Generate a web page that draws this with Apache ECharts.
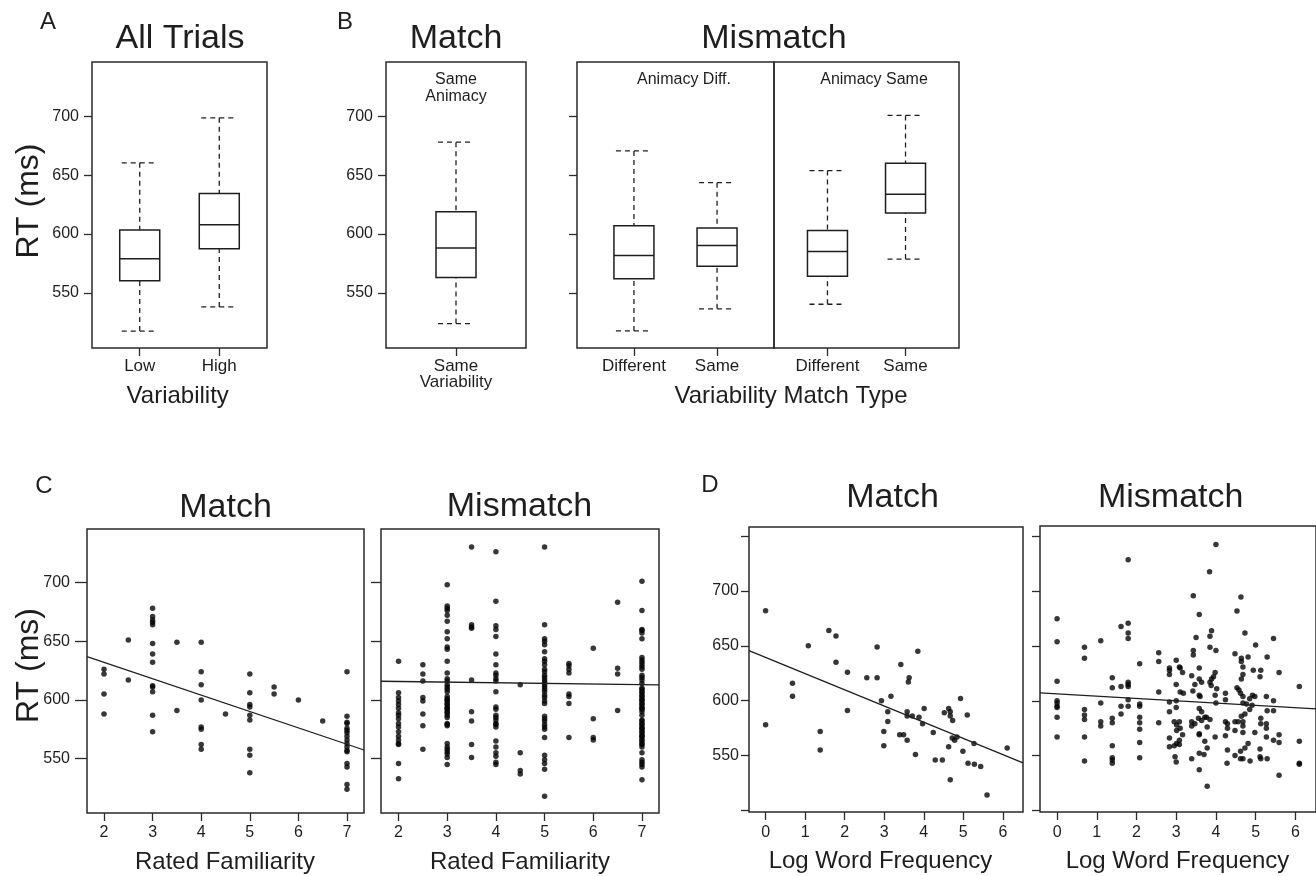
<!DOCTYPE html>
<html><head><meta charset="utf-8">
<script src="https://cdn.jsdelivr.net/npm/echarts@6/dist/echarts.min.js"></script>
<style>html,body{margin:0;padding:0;background:#fff}#c{width:1316px;height:876px}</style>
</head><body><div id="c"></div>
<script>
// ---------- data ----------
const catsA = ['Low', 'High'];
const boxA = [[517.5, 560.2, 579.0, 603.4, 660.6], [538.0, 587.5, 608.0, 634.4, 698.8]];
const catsBMatch = ['Same\nVariability'];
const boxBMatch = [[523.9, 563.1, 588.1, 619.0, 678.1]];
const catsBMis = ['Different', 'Same'];
const boxBAnimDiff = [[517.6, 561.9, 581.8, 607.1, 670.7], [536.4, 572.7, 590.3, 605.1, 643.7]];
const boxBAnimSame = [[540.3, 564.2, 585.2, 603.1, 654.0], [578.7, 617.9, 633.8, 660.2, 700.9]];

const yTicksAB = [550, 600, 650, 700];
const yTicksD = [500, 550, 600, 650, 700, 750];
const yLabelsD = [550, 600, 650, 700];
const xTicksC = [2, 3, 4, 5, 6, 7];
const xTicksD = [0, 1, 2, 3, 4, 5, 6];

// Panel C, Match: familiarity columns and RTs
const cMatchX = [2, 2.5, 3, 3.5, 4, 4.5, 5, 5.5, 6, 6.5, 7];
const cMatchY = [
  [626, 622, 605, 588],
  [651, 617],
  [678, 671, 668, 666, 664, 648, 639, 632, 612, 611, 607, 587, 573],
  [649, 591],
  [649, 624, 613, 600, 577, 575, 562, 558],
  [588],
  [622, 606, 596, 594, 587, 583, 558, 553, 538],
  [611, 605],
  [600],
  [582],
  [624, 586, 581, 580, 576, 574, 572, 569, 566, 563, 560, 557, 556, 546, 543, 528, 524]
];
// Panel C, Mismatch
const cMisX = [2, 2.5, 3, 3.5, 4, 4.5, 5, 5.5, 6, 6.5, 7];
const cMisY = [
  [633, 606, 602, 599, 596, 593, 589, 587, 584, 580, 577, 573, 569, 566, 563, 562, 546, 533],
  [630, 622, 616, 602, 599, 588, 578, 558],
  [698, 680, 678, 676, 672, 667, 658, 652, 645, 643, 633, 623, 618, 616, 613, 611, 609, 607, 603, 601, 600, 599, 597, 596, 594, 593, 592, 590, 589, 587, 585, 580, 579, 578, 563, 560, 558, 556, 554, 551, 545],
  [730, 664, 662, 661, 617, 590, 582, 562, 551],
  [726, 684, 663, 660, 654, 639, 630, 623, 621, 618, 616, 607, 594, 592, 587, 585, 583, 580, 579, 577, 565, 560, 555, 552, 547, 545],
  [613, 555, 540, 537],
  [730, 664, 652, 650, 647, 641, 635, 633, 630, 626, 624, 621, 619, 617, 615, 613, 611, 609, 607, 604, 602, 599, 597, 586, 584, 582, 579, 577, 575, 568, 553, 549, 546, 541, 518],
  [631, 629, 626, 623, 605, 603, 597, 568],
  [644, 584, 568, 566],
  [683, 627, 622, 591],
  [701, 676, 660, 659, 657, 652, 636, 634, 632, 630, 628, 626, 621, 619, 617, 614, 610, 609, 607, 606, 604, 603, 601, 600, 599, 597, 596, 594, 593, 592, 590, 587, 583, 582, 580, 579, 577, 576, 575, 573, 572, 570, 569, 568, 566, 565, 563, 562, 560, 555, 549, 547, 545, 543, 532]
];
// Panel D, Match: [log word frequency, RT]
const dMatchPts = [[0,682],[0,578],[0.68,616],[0.68,604],[1.08,650],[1.38,572],[1.38,555],[1.6,664],[1.78,659],[1.78,635],[2.07,626],[2.07,591],[2.56,621],[2.82,649],[2.82,621],[2.93,600],[2.99,572],[2.99,559],[3.09,590],[3.09,581],[3.17,604],[3.39,569],[3.49,569],[3.42,633],[3.58,564],[3.61,617],[3.63,621],[3.58,590],[3.58,586],[3.71,586],[3.79,551],[3.85,645],[3.88,585],[3.97,579],[4.01,593],[4.24,571],[4.29,546],[4.47,546],[4.52,589],[4.63,593],[4.67,590],[4.67,586],[4.73,582],[4.63,558],[4.67,528],[4.72,566],[4.78,564],[4.84,567],[4.93,602],[4.99,554],[5.1,587],[5.12,543],[5.27,561],[5.28,542],[5.44,540],[5.6,514],[6.11,557]];
// Panel D, Mismatch
const dMisPts = [[0,675],[0,654],[0,618],[0,600],[0,598],[0,595],[0,594],[0,585],[0,567],
 [0.69,649],[0.69,639],[0.69,592],[0.69,587],[0.69,583],[0.69,567],[0.69,545],
 [1.1,655],[1.1,598],[1.1,581],[1.1,577],
 [1.39,621],[1.39,612],[1.39,584],[1.39,580],[1.39,559],[1.39,548],[1.39,546],[1.39,543],
 [1.61,668],[1.61,613],[1.61,595],[1.61,588],
 [1.79,729],[1.79,671],[1.79,662],[1.79,657],[1.79,617],[1.79,615],[1.79,613],[1.79,601],[1.79,595],
 [2.08,634],[2.08,597],[2.08,595],[2.08,585],[2.08,580],[2.08,574],[2.08,562],[2.08,548],
 [2.56,644],[2.56,636],[2.56,608],[2.56,580],
 [2.83,630],[2.83,628],[2.83,624],[2.83,599],[2.83,590],[2.83,566],[2.83,558],
 [2.95,581],[2.95,559],
 [4.0,743],[3.84,718],[3.43,696],[4.63,695],[3.58,679],[4.53,682],[3.5,658],[3.89,664],[3.85,659],[4.73,662],[5.45,657],[5.0,651],[3.43,646],[3.43,642],[3.85,649],[4.0,646],[4.48,643],[4.64,639],[4.81,640],[5.29,640],[3.0,637],[3.08,631],[3.1,630],[3.16,626],[3.58,630],[3.39,623],[3.58,620],[3.64,617],[3.98,626],[3.94,622],[3.89,620],[3.85,617],[3.88,614],[4.02,611],[3.47,615],[3.58,605],[3.6,604],[3.42,609],[3.1,608],[3.18,607],[3.0,615],[3.0,600],[3.0,594],[3.98,605],[4.0,598],[4.24,607],[4.24,601],[4.64,636],[4.68,631],[4.68,624],[4.64,620],[4.53,612],[4.58,610],[4.62,607],[4.68,604],[4.68,598],[4.77,597],[4.85,602],[4.92,605],[4.98,604],[4.94,628],[5.13,628],[5.11,622],[5.27,604],[5.45,600],[5.59,626],[6.1,613],[4.91,596],[4.85,592],[4.73,588],[4.64,586],[5.29,591],[5.45,591],[3.58,593],[3.64,590],[3.72,585],[3.76,585],[3.56,584],[3.64,582],[3.39,581],[3.47,579],[3.85,583],[3.39,577],[3.78,576],[3.08,581],[3.01,578],[3.1,575],[3.01,573],[3.16,569],[3.08,564],[3.01,561],[3.08,560],[4.24,581],[4.29,579],[4.29,575],[4.48,581],[4.56,581],[4.68,581],[4.68,577],[4.48,573],[4.68,571],[4.98,571],[5.13,584],[5.13,579],[5.27,579],[5.27,575],[5.27,567],[5.45,564],[5.59,569],[5.59,562],[6.1,563],[3.58,570],[3.58,569],[3.72,563],[3.78,557],[3.98,567],[4.24,568],[4.81,561],[4.73,557],[4.62,554],[4.29,555],[4.48,550],[4.62,547],[4.68,547],[4.86,545],[5.11,556],[5.11,549],[5.13,547],[5.29,547],[4.28,543],[3.39,547],[3.58,552],[3.7,551],[2.97,549],[3.0,544],[3.58,537],[3.78,522],[5.59,532],[6.1,543],[6.1,542]];

// fitted regression lines (end points)
const fitCMatch = [[1.65, 636.9], [7.35, 557.4]];
const fitCMis = [[1.64, 615.9], [7.35, 612.8]];
const fitDMatch = [[-0.42, 645.6], [6.51, 543.4]];
const fitDMis = [[-0.43, 607.3], [6.52, 592.6]];

// ---------- chart ----------
const FONT = 'Liberation Sans, Arial, Helvetica, sans-serif';
const INK = '#1e1e1e';
const chart = echarts.init(document.getElementById('c'), null, {renderer: 'canvas'});

function grid(left, top, width, height) {
  return {left, top, width, height, show: true, borderColor: '#2a2a2a', borderWidth: 1.5, backgroundColor: 'transparent', containLabel: false};
}
function yAx(gi, min, max, ticks, labels, tickLen, margin, fs) {
  return {type: 'value', gridIndex: gi, min, max, splitLine: {show: false},
    axisLine: {show: false, onZero: false},
    axisTick: {show: true, customValues: ticks, length: tickLen, lineStyle: {color: '#2a2a2a', width: 1.3}},
    axisLabel: {show: labels.length > 0, customValues: labels, margin, color: INK, fontFamily: FONT, fontSize: fs}};
}
function xAx(gi, min, max, ticks, margin, fs, fmt) {
  return {type: 'value', gridIndex: gi, min, max, splitLine: {show: false},
    axisLine: {show: false, onZero: false},
    axisTick: {show: true, customValues: ticks, length: 8, lineStyle: {color: '#2a2a2a', width: 1.3}},
    axisLabel: {show: true, customValues: ticks, margin, color: INK, fontFamily: FONT, fontSize: fs, lineHeight: 16,
      formatter: fmt || (v => String(v))}};
}

function renderBox(params, api) {
  const x = api.value(0);
  const p = [1, 2, 3, 4, 5].map(i => api.coord([x, api.value(i)]));
  const cx = p[0][0], hw = 20, cw = 18;
  const dash = {stroke: INK, lineWidth: 1.3, lineDash: [5, 4]};
  return {type: 'group', children: [
    {type: 'line', shape: {x1: cx, y1: p[4][1], x2: cx, y2: p[3][1]}, style: dash},
    {type: 'line', shape: {x1: cx, y1: p[0][1], x2: cx, y2: p[1][1]}, style: dash},
    {type: 'line', shape: {x1: cx - cw, y1: p[4][1], x2: cx + cw, y2: p[4][1]}, style: dash},
    {type: 'line', shape: {x1: cx - cw, y1: p[0][1], x2: cx + cw, y2: p[0][1]}, style: dash},
    {type: 'rect', shape: {x: cx - hw, y: p[3][1], width: 2 * hw, height: p[1][1] - p[3][1]}, style: {stroke: INK, lineWidth: 1.5, fill: '#fff'}},
    {type: 'line', shape: {x1: cx - hw, y1: p[2][1], x2: cx + hw, y2: p[2][1]}, style: {stroke: INK, lineWidth: 1.5}}
  ]};
}
function boxSeries(gi, boxes) {
  return {type: 'custom', xAxisIndex: gi, yAxisIndex: gi, renderItem: renderBox,
    encode: {x: 0, y: [1, 2, 3, 4, 5]},
    data: boxes.map((b, i) => [i + 1].concat(b))};
}
function colPts(xs, ys) {
  const out = [];
  xs.forEach((x, i) => ys[i].forEach(y => out.push([x, y])));
  return out;
}
function scatter(gi, data) {
  return {type: 'scatter', xAxisIndex: gi, yAxisIndex: gi, data, symbolSize: 5.5,
    itemStyle: {color: '#050505'}, silent: true};
}
function fit(gi, data) {
  return {type: 'line', xAxisIndex: gi, yAxisIndex: gi, data, symbol: 'none',
    lineStyle: {color: INK, width: 1.3}, silent: true};
}

function txt(t, x, y, fs, extra) {
  return Object.assign({type: 'text', x, y, silent: true,
    style: {text: t, fill: INK, font: fs + 'px ' + FONT, align: 'center', verticalAlign: 'middle'}}, extra || {});
}

const option = {
  animation: false,
  backgroundColor: '#fff',
  grid: [
    grid(92, 62, 175, 286),
    grid(386, 62, 140, 286),
    grid(577, 62, 197, 286),
    grid(774, 62, 185, 286),
    grid(87, 529, 277, 284),
    grid(381, 529, 278, 284),
    grid(749, 527, 274, 285),
    grid(1040, 526, 278, 286)
  ],
  xAxis: [
    xAx(0, 0.4, 2.6, [1, 2], 10, 17, v => catsA[v - 1]),
    xAx(1, 0.4, 1.6, [1], 10, 17, v => catsBMatch[v - 1]),
    xAx(2, 0.315, 2.685, [1, 2], 10, 17, v => catsBMis[v - 1]),
    xAx(3, 0.315, 2.685, [1, 2], 10, 17, v => catsBMis[v - 1]),
    xAx(4, 1.65, 7.35, xTicksC, 12, 16),
    xAx(5, 1.64, 7.35, xTicksC, 12, 16),
    xAx(6, -0.42, 6.51, xTicksD, 13, 16),
    xAx(7, -0.43, 6.52, xTicksD, 13, 16)
  ],
  yAxis: [
    yAx(0, 503.1, 746.3, yTicksAB, yTicksAB, 8, 13, 16),
    yAx(1, 503.1, 746.3, yTicksAB, yTicksAB, 8, 13, 16),
    yAx(2, 503.1, 746.3, yTicksAB, [], 8, 13, 16),
    yAx(3, 503.1, 746.3, [], [], 8, 13, 16),
    yAx(4, 503.8, 745.4, yTicksAB, yTicksAB, 12, 17, 16),
    yAx(5, 503.8, 745.4, yTicksAB, [], 10, 17, 16),
    yAx(6, 498.6, 758.3, yTicksD, yLabelsD, 8, 10, 16),
    yAx(7, 498.4, 759.8, yTicksD, [], 8, 10, 16)
  ],
  series: [
    boxSeries(0, boxA),
    boxSeries(1, boxBMatch),
    boxSeries(2, boxBAnimDiff),
    boxSeries(3, boxBAnimSame),
    scatter(4, colPts(cMatchX, cMatchY)), fit(4, fitCMatch),
    scatter(5, colPts(cMisX, cMisY)), fit(5, fitCMis),
    scatter(6, dMatchPts), fit(6, fitDMatch),
    scatter(7, dMisPts), fit(7, fitDMis)
  ],
  graphic: [
    txt('A', 48, 22, 24), txt('B', 345, 22, 24), txt('C', 44, 486, 24), txt('D', 710, 485, 24),
    txt('All Trials', 180, 39, 34), txt('Match', 456, 39, 34), txt('Mismatch', 774, 39, 34),
    txt('Match', 225.5, 508, 34), txt('Mismatch', 519.5, 507, 34),
    txt('Match', 892.5, 498, 34), txt('Mismatch', 1170.7, 498, 34),
    txt('Same', 456, 80, 16), txt('Animacy', 456, 96.5, 16),
    txt('Animacy Diff.', 684, 80, 16), txt('Animacy Same', 874, 80, 16),
    txt('Variability', 177.7, 396, 24), txt('Variability Match Type', 791, 396, 24),
    txt('Rated Familiarity', 225, 862, 24), txt('Rated Familiarity', 520, 862, 24),
    txt('Log Word Frequency', 880.5, 861, 24), txt('Log Word Frequency', 1177.5, 861, 24),
    txt('RT (ms)', 29, 201, 32, {rotation: Math.PI / 2}),
    txt('RT (ms)', 29.5, 665.5, 32, {rotation: Math.PI / 2})
  ]
};
chart.setOption(option);
</script></body></html>
